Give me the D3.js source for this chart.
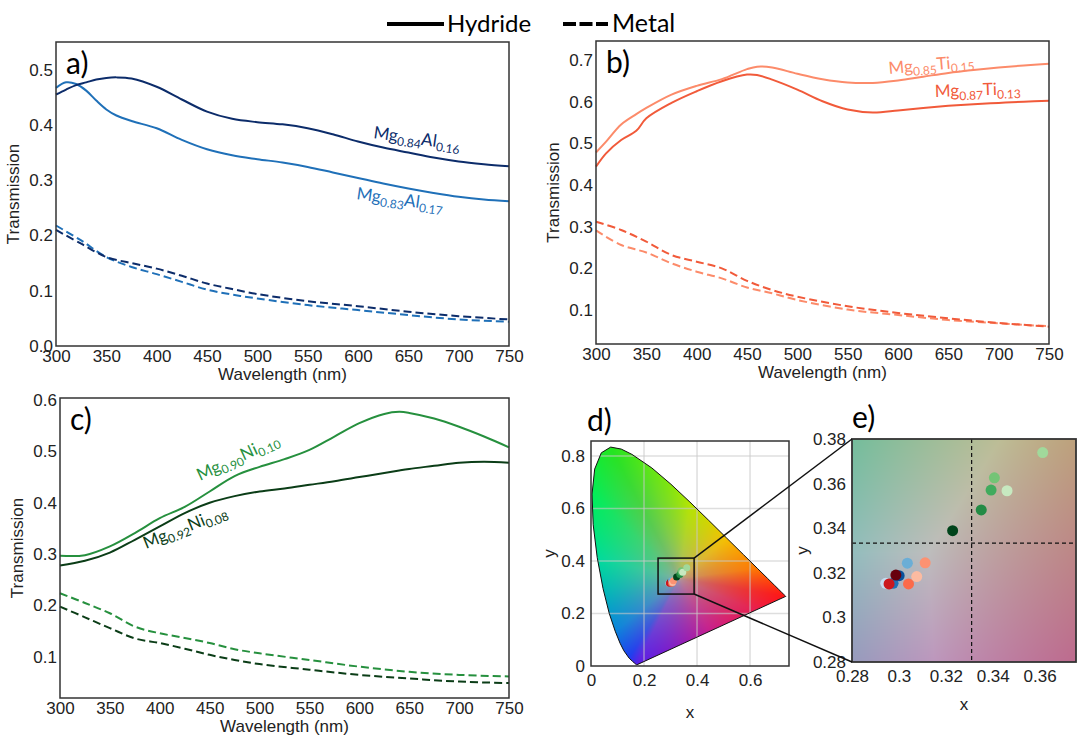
<!DOCTYPE html>
<html>
<head>
<meta charset="utf-8">
<script src="https://cdn.jsdelivr.net/npm/d3@7"></script>
<style>
  body { margin: 0; background: #fff; }
  svg { display: block; }
  .tick text { font-family: "Liberation Sans", Arial, sans-serif; font-size: 17px; fill: #222; }
</style>
</head>
<body>
<svg id="chart" width="1081" height="736"></svg>
<script>
// ---- data ----
// panel a: Mg-Al
const wlA = [300, 310, 320, 330, 340, 350, 360, 375, 400, 425, 450, 475, 500, 525, 550, 575, 600, 625, 650, 675, 700, 725, 750];
const al16Hyd = [.455, .464, .472, .477, .482, .485, .486, .484, .469, .446, .424, .411, .405, .401, .394, .383, .370, .359, .350, .341, .334, .329, .325];
const al17Hyd = [.467, .477, .474, .462, .444, .428, .417, .407, .394, .373, .356, .345, .338, .332, .324, .314, .304, .294, .285, .277, .270, .265, .262];
const wlMetal = [300, 325, 350, 375, 400, 425, 450, 475, 500, 550, 600, 650, 700, 750];
const al16Met = [.210, .185, .161, .150, .140, .127, .113, .103, .094, .081, .072, .062, .054, .048];
const al17Met = [.218, .191, .161, .143, .130, .116, .102, .093, .086, .074, .065, .056, .048, .044];

// panel b: Mg-Ti
const wlB = [300, 310, 325, 340, 350, 375, 400, 425, 450, 460, 475, 500, 525, 550, 575, 600, 625, 650, 675, 700, 725, 750];
const ti15Hyd = [.478, .504, .545, .570, .585, .617, .638, .654, .678, .684, .682, .667, .654, .646, .645, .651, .660, .669, .676, .682, .687, .691];
const ti13Hyd = [.444, .476, .508, .530, .560, .597, .625, .649, .665, .664, .653, .629, .601, .581, .574, .579, .585, .590, .594, .597, .600, .602];
const ti13Met = [.312, .292, .264, .232, .216, .200, .170, .148, .132, .109, .093, .080, .069, .060];
const ti15Met = [.291, .256, .238, .212, .192, .176, .154, .140, .124, .101, .088, .076, .068, .061];

// panel c: Mg-Ni
const wlC = [300, 325, 350, 375, 400, 425, 450, 475, 500, 525, 550, 575, 600, 625, 640, 650, 675, 700, 725, 750];
const ni10Hyd = [.297, .298, .315, .341, .370, .392, .422, .452, .470, .485, .503, .529, .555, .573, .577, .575, .564, .548, .529, .508];
const ni08Hyd = [.278, .287, .303, .328, .354, .380, .400, .413, .422, .428, .435, .442, .450, .458, .463, .466, .472, .478, .480, .478];
const ni10Met = [.224, .205, .185, .159, .146, .137, .127, .115, .107, .094, .081, .071, .065, .062];
const ni08Met = [.198, .177, .156, .136, .127, .116, .104, .094, .086, .075, .065, .058, .052, .049];

// CIE 1931 spectral locus (x, y)
const locusX = [0.1741, 0.1733, 0.1714, 0.1689, 0.1644, 0.1566, 0.1440, 0.1241, 0.1096, 0.0913, 0.0687, 0.0454, 0.0235, 0.0082, 0.0039, 0.0139, 0.0389, 0.0743, 0.1142, 0.1547, 0.2296, 0.3016, 0.3731, 0.4441, 0.5125, 0.5752, 0.6270, 0.6658, 0.6915, 0.7079, 0.7190, 0.7260, 0.7300, 0.7334, 0.7347];
const locusY = [0.0050, 0.0048, 0.0051, 0.0069, 0.0109, 0.0177, 0.0297, 0.0578, 0.0868, 0.1327, 0.2007, 0.2950, 0.4127, 0.5384, 0.6548, 0.7502, 0.8120, 0.8338, 0.8262, 0.8059, 0.7543, 0.6923, 0.6245, 0.5547, 0.4866, 0.4242, 0.3725, 0.3340, 0.3083, 0.2920, 0.2809, 0.2740, 0.2700, 0.2666, 0.2653];

// edge colours of the diagram as they appear in the figure (point on the edge, colour)
const edgeX = [0.0743, 0.0039, 0.0235, 0.0454, 0.0913, 0.1440, 0.1741, 0.45, 0.62, 0.7347, 0.6270, 0.5125, 0.3731, 0.2296];
const edgeY = [0.8338, 0.6548, 0.4127, 0.2950, 0.1327, 0.0297, 0.0050, 0.133, 0.212, 0.2653, 0.3725, 0.4866, 0.6245, 0.7543];
const edgeCol = ['#22e61e', '#00ee5a', '#00dc9a', '#00bcb4', '#0a84dc', '#1e3cf0', '#5a1ee6', '#c81e8c', '#e81e50', '#ff1414', '#ff7a00', '#f5c000', '#b4e600', '#64e614'];
const centreCol = '#aaa29e';

// colour coordinates of the samples (drawing order)
const chromX = [0.2944, 0.2975, 0.3001, 0.2987, 0.2958, 0.3036, 0.3041, 0.3076, 0.3112, 0.3229, 0.3351, 0.3393, 0.3407, 0.3461, 0.3613];
const chromY = [0.3153, 0.3153, 0.3187, 0.3190, 0.3150, 0.3243, 0.3150, 0.3183, 0.3245, 0.3389, 0.3482, 0.3571, 0.3626, 0.3568, 0.3739];
const chromCol = ['#c6dbef', '#2171b5', '#08519c', '#67000d', '#cb181d', '#6baed6', '#fb6a4a', '#fcbba1', '#fc9272', '#00441b', '#238b45', '#41ab5d', '#74c476', '#c7e9c0', '#a1d99b'];
const whitePt = [0.331, 0.3333];
const zoomBox = [0.253, 0.389, 0.274, 0.411];

const navy = '#0c2c6a', blue = '#1f70b8';
const salmon = '#fc8b6a', red = '#f15a3a';
const green = '#26903e', dkgreen = '#0b3d17';

const svg = d3.select('#chart');
const sans = '"Liberation Sans", Arial, sans-serif';
const cal = 'Lato, "Open Sans", sans-serif';

// ---- legend ----
const leg = svg.append('g');
leg.append('line').attr('x1', 387).attr('x2', 444).attr('y1', 24).attr('y2', 24)
  .attr('stroke', '#000').attr('stroke-width', 4);
leg.append('text').attr('x', 447).attr('y', 32).attr('font-family', cal).attr('font-size', 24).text('Hydride');
leg.append('line').attr('x1', 563).attr('x2', 608).attr('y1', 24).attr('y2', 24)
  .attr('stroke', '#000').attr('stroke-width', 4).attr('stroke-dasharray', '13,3.5');
leg.append('text').attr('x', 612).attr('y', 32).attr('font-family', cal).attr('font-size', 25).text('Metal');

// ---- spectra panels ----
function spectrumPanel(box, yDomain, yTicks, series, tag, labels) {
  const x = d3.scaleLinear().domain([300, 750]).range([box.l, box.r]);
  const y = d3.scaleLinear().domain(yDomain).range([box.b, box.t]);
  const g = svg.append('g');

  g.append('g').attr('transform', `translate(0,${box.b})`)
    .call(d3.axisBottom(x).tickValues(d3.range(300, 751, 50)).tickSize(0).tickPadding(4))
    .call(a => a.select('.domain').remove());
  g.append('g').attr('transform', `translate(${box.l},0)`)
    .call(d3.axisLeft(y).tickValues(yTicks).tickFormat(d3.format('.1f')).tickSize(0).tickPadding(3))
    .call(a => a.select('.domain').remove());

  const line = d3.line().curve(d3.curveCatmullRom.alpha(0.5)).x(d => x(d[0])).y(d => y(d[1]));
  series.forEach(s => {
    g.append('path').datum(d3.zip(s.wl, s.v)).attr('d', line)
      .attr('fill', 'none').attr('stroke', s.c).attr('stroke-width', 2)
      .attr('stroke-dasharray', s.dash ? '8,4' : null);
  });

  g.append('rect').attr('x', box.l).attr('y', box.t).attr('width', box.r - box.l).attr('height', box.b - box.t)
    .attr('fill', 'none').attr('stroke', '#333').attr('stroke-width', 1.5);

  g.append('text').attr('x', box.l + 10).attr('y', box.t + 32).attr('font-family', cal).attr('font-size', 30).text(tag);
  g.append('text').attr('transform', `translate(${box.l - 37},${(box.t + box.b) / 2}) rotate(-90)`)
    .attr('text-anchor', 'middle').attr('font-family', sans).attr('font-size', 17).attr('fill', '#222').text('Transmission');
  g.append('text').attr('x', (box.l + box.r) / 2).attr('y', box.b + 34)
    .attr('text-anchor', 'middle').attr('font-family', sans).attr('font-size', 17).attr('fill', '#222').text('Wavelength (nm)');

  labels.forEach(lb => {
    const t = g.append('text').attr('transform', `translate(${lb.x},${lb.y}) rotate(${lb.rot})`)
      .attr('font-family', cal).attr('font-size', 17).attr('fill', lb.c);
    lb.parts.forEach((p, i) => {
      t.append('tspan').attr('font-size', i % 2 ? 12 : 17).attr('dy', i === 0 ? 0 : (i % 2 ? 4 : -4)).text(p);
    });
  });
}

spectrumPanel({ l: 56, r: 509, t: 42, b: 346 }, [0, 0.55], [0, .1, .2, .3, .4, .5], [
  { wl: wlMetal, v: al17Met, c: blue, dash: true },
  { wl: wlMetal, v: al16Met, c: navy, dash: true },
  { wl: wlA, v: al17Hyd, c: blue },
  { wl: wlA, v: al16Hyd, c: navy }
], 'a)', [
  { x: 373, y: 138, rot: 8, c: navy, parts: ['Mg', '0.84', 'Al', '0.16'] },
  { x: 356, y: 199, rot: 8, c: blue, parts: ['Mg', '0.83', 'Al', '0.17'] }
]);

spectrumPanel({ l: 596, r: 1049, t: 41, b: 344 }, [0.0184, 0.7456], [.1, .2, .3, .4, .5, .6, .7], [
  { wl: wlMetal, v: ti15Met, c: salmon, dash: true },
  { wl: wlMetal, v: ti13Met, c: red, dash: true },
  { wl: wlB, v: ti15Hyd, c: salmon },
  { wl: wlB, v: ti13Hyd, c: red }
], 'b)', [
  { x: 889, y: 74, rot: -5, c: salmon, parts: ['Mg', '0.85', 'Ti', '0.15'] },
  { x: 935, y: 97, rot: -2, c: red, parts: ['Mg', '0.87', 'Ti', '0.13'] }
]);

spectrumPanel({ l: 60, r: 509, t: 398, b: 698 }, [0.02, 0.604], [.1, .2, .3, .4, .5, .6], [
  { wl: wlMetal, v: ni10Met, c: green, dash: true },
  { wl: wlMetal, v: ni08Met, c: dkgreen, dash: true },
  { wl: wlC, v: ni10Hyd, c: green },
  { wl: wlC, v: ni08Hyd, c: dkgreen }
], 'c)', [
  { x: 200, y: 481, rot: -25, c: green, parts: ['Mg', '0.90', 'Ni', '0.10'] },
  { x: 146, y: 549, rot: -22, c: dkgreen, parts: ['Mg', '0.92', 'Ni', '0.08'] }
]);

// ---- chromaticity helpers ----
// close-up: sRGB colour of each (x, y), dimmed
function srgbColor(cx, cy) {
  const X = cx / cy, Z = (1 - cx - cy) / cy;
  const lin = [3.2406 * X - 1.5372 - 0.4986 * Z,
               -0.9689 * X + 1.8758 + 0.0415 * Z,
               0.0557 * X - 0.2040 + 1.0570 * Z].map(v => Math.max(v, 0));
  const m = Math.max(...lin) || 1;
  return lin.map(v => Math.round(255 * 0.74 * Math.pow(v / m, 1 / 2.2)));
}

// full diagram: hue from the angle round the white point, saturation from the distance to the edge
const W = [1 / 3, 1 / 3];
const edges = d3.range(edgeX.length).map(i => ({
  a: Math.atan2(edgeY[i] - W[1], edgeX[i] - W[0]), c: d3.rgb(edgeCol[i])
})).sort((p, q) => p.a - q.a);
const centre = d3.rgb(centreCol);
function hueAt(a) {
  const n = edges.length;
  for (let k = 0; k < n; k++) {
    const p = edges[k], q = edges[(k + 1) % n];
    const a0 = p.a, a1 = k === n - 1 ? q.a + 2 * Math.PI : q.a;
    let aa = a;
    if (k === n - 1 && aa < a0) aa += 2 * Math.PI;
    if (aa >= a0 && aa <= a1) {
      const t = (aa - a0) / (a1 - a0);
      return [p.c.r + t * (q.c.r - p.c.r), p.c.g + t * (q.c.g - p.c.g), p.c.b + t * (q.c.b - p.c.b)];
    }
  }
  const c = edges[0].c;
  return [c.r, c.g, c.b];
}
const locusPts = d3.zip(locusX, locusY);
function edgeReach(dx, dy) {
  // smallest s > 0 with W + s*d on the closed locus outline
  let best = Infinity;
  const n = locusPts.length;
  for (let k = 0; k < n; k++) {
    const p = locusPts[k], q = locusPts[(k + 1) % n];
    const ex = q[0] - p[0], ey = q[1] - p[1];
    const den = dx * ey - dy * ex;
    if (Math.abs(den) < 1e-12) continue;
    const wx = p[0] - W[0], wy = p[1] - W[1];
    const s = (wx * ey - wy * ex) / den;
    const u = (wx * dy - wy * dx) / den;
    if (s > 0 && u >= 0 && u <= 1 && s < best) best = s;
  }
  return best;
}
function diagramColor(cx, cy) {
  const dx = cx - W[0], dy = cy - W[1];
  const r = Math.hypot(dx, dy);
  if (r < 1e-6) return [centre.r, centre.g, centre.b];
  const s = edgeReach(dx, dy);
  const t = Math.min(1, Math.pow(Math.min(1, 1 / s), 0.55));
  const h = hueAt(Math.atan2(dy, dx));
  return [0, 1, 2].map(k => {
    const c0 = [centre.r, centre.g, centre.b][k];
    return Math.round(c0 + t * (h[k] - c0));
  });
}

function chromaImage(x, y, colorFn) {
  const [x0, x1] = x.range(), [y1, y0] = y.range();
  const w = Math.round(x1 - x0), h = Math.round(y1 - y0);
  const cv = document.createElement('canvas');
  cv.width = w; cv.height = h;
  const ctx = cv.getContext('2d');
  const img = ctx.createImageData(w, h);
  for (let j = 0; j < h; j++) {
    for (let i = 0; i < w; i++) {
      const cx = x.invert(x0 + i + 0.5), cy = Math.max(y.invert(y0 + j + 0.5), 0.002);
      const c = colorFn(cx, cy);
      const k = 4 * (j * w + i);
      img.data[k] = c[0]; img.data[k + 1] = c[1]; img.data[k + 2] = c[2]; img.data[k + 3] = 255;
    }
  }
  ctx.putImageData(img, 0, 0);
  return { href: cv.toDataURL(), x: x0, y: y0, w, h };
}

// ---- panel d ----
const dBox = { l: 591, r: 789, t: 441, b: 666 };
const xd = d3.scaleLinear().domain([0, 0.747]).range([dBox.l, dBox.r]);
const yd = d3.scaleLinear().domain([0, 0.857]).range([dBox.b, dBox.t]);
const gd = svg.append('g');

const locusPath = d3.line().x(d => xd(d[0])).y(d => yd(d[1]))(locusPts) + 'Z';
svg.append('defs').append('clipPath').attr('id', 'locusClip').append('path').attr('d', locusPath);

const imD = chromaImage(xd, yd, diagramColor);
gd.append('image').attr('href', imD.href).attr('x', imD.x).attr('y', imD.y)
  .attr('width', imD.w).attr('height', imD.h).attr('preserveAspectRatio', 'none')
  .attr('clip-path', 'url(#locusClip)');

gd.append('g').selectAll('line').data([0.2, 0.4, 0.6]).join('line')
  .attr('x1', d => xd(d)).attr('x2', d => xd(d)).attr('y1', dBox.t).attr('y2', dBox.b)
  .attr('stroke', '#c8c8c8').attr('stroke-opacity', 0.6).attr('stroke-width', 1.5);
gd.append('g').selectAll('line').data([0.2, 0.4, 0.6, 0.8]).join('line')
  .attr('x1', dBox.l).attr('x2', dBox.r).attr('y1', d => yd(d)).attr('y2', d => yd(d))
  .attr('stroke', '#c8c8c8').attr('stroke-opacity', 0.6).attr('stroke-width', 1.5);
gd.append('path').attr('d', locusPath).attr('fill', 'none').attr('stroke', '#111').attr('stroke-width', 1);

gd.selectAll('circle').data(d3.range(chromX.length)).join('circle')
  .attr('cx', i => xd(chromX[i])).attr('cy', i => yd(chromY[i])).attr('r', 3.5)
  .attr('fill', i => chromCol[i]);

gd.append('rect').attr('x', xd(zoomBox[0])).attr('y', yd(zoomBox[3]))
  .attr('width', xd(zoomBox[1]) - xd(zoomBox[0])).attr('height', yd(zoomBox[2]) - yd(zoomBox[3]))
  .attr('fill', 'none').attr('stroke', '#111').attr('stroke-width', 1.5);

gd.append('rect').attr('x', dBox.l).attr('y', dBox.t).attr('width', dBox.r - dBox.l).attr('height', dBox.b - dBox.t)
  .attr('fill', 'none').attr('stroke', '#333').attr('stroke-width', 1.5);
gd.append('g').attr('transform', `translate(0,${dBox.b})`)
  .call(d3.axisBottom(xd).tickValues([0, 0.2, 0.4, 0.6]).tickFormat(d => d === 0 ? '0' : d3.format('.1f')(d)).tickSize(0).tickPadding(8))
  .call(a => a.select('.domain').remove());
gd.append('g').attr('transform', `translate(${dBox.l},0)`)
  .call(d3.axisLeft(yd).tickValues([0, 0.2, 0.4, 0.6, 0.8]).tickFormat(d => d === 0 ? '0' : d3.format('.1f')(d)).tickSize(0).tickPadding(6))
  .call(a => a.select('.domain').remove());
gd.append('text').attr('x', 587).attr('y', 431).attr('font-family', cal).attr('font-size', 30).text('d)');
gd.append('text').attr('x', (dBox.l + dBox.r) / 2).attr('y', 718).attr('text-anchor', 'middle')
  .attr('font-family', sans).attr('font-size', 17).attr('fill', '#222').text('x');
gd.append('text').attr('transform', `translate(${dBox.l - 36},${(dBox.t + dBox.b) / 2}) rotate(-90)`)
  .attr('text-anchor', 'middle').attr('font-family', sans).attr('font-size', 17).attr('fill', '#222').text('y');

// ---- panel e ----
const eBox = { l: 852, r: 1076, t: 439, b: 662 };
const xe = d3.scaleLinear().domain([0.28, 0.3755]).range([eBox.l, eBox.r]);
const ye = d3.scaleLinear().domain([0.28, 0.38]).range([eBox.b, eBox.t]);
const ge = svg.append('g');

const imE = chromaImage(xe, ye, srgbColor);
ge.append('image').attr('href', imE.href).attr('x', imE.x).attr('y', imE.y)
  .attr('width', imE.w).attr('height', imE.h).attr('preserveAspectRatio', 'none');

ge.append('line').attr('x1', xe(whitePt[0])).attr('x2', xe(whitePt[0])).attr('y1', eBox.t).attr('y2', eBox.b)
  .attr('stroke', '#111').attr('stroke-width', 1.2).attr('stroke-dasharray', '4,3');
ge.append('line').attr('x1', eBox.l).attr('x2', eBox.r).attr('y1', ye(whitePt[1])).attr('y2', ye(whitePt[1]))
  .attr('stroke', '#111').attr('stroke-width', 1.2).attr('stroke-dasharray', '4,3');

ge.selectAll('circle').data(d3.range(chromX.length)).join('circle')
  .attr('cx', i => xe(chromX[i])).attr('cy', i => ye(chromY[i])).attr('r', 5.5)
  .attr('fill', i => chromCol[i]);

ge.append('rect').attr('x', eBox.l).attr('y', eBox.t).attr('width', eBox.r - eBox.l).attr('height', eBox.b - eBox.t)
  .attr('fill', 'none').attr('stroke', '#333').attr('stroke-width', 1.8);
ge.append('g').attr('transform', `translate(0,${eBox.b})`)
  .call(d3.axisBottom(xe).tickValues([0.28, 0.30, 0.32, 0.34, 0.36]).tickFormat(d3.format('~g')).tickSize(0).tickPadding(8))
  .call(a => a.select('.domain').remove());
ge.append('g').attr('transform', `translate(${eBox.l},0)`)
  .call(d3.axisLeft(ye).tickValues([0.28, 0.30, 0.32, 0.34, 0.36, 0.38]).tickFormat(d3.format('~g')).tickSize(0).tickPadding(6))
  .call(a => a.select('.domain').remove());
ge.append('text').attr('x', 852).attr('y', 428).attr('font-family', cal).attr('font-size', 30).text('e)');
ge.append('text').attr('x', 964).attr('y', 710).attr('text-anchor', 'middle')
  .attr('font-family', sans).attr('font-size', 17).attr('fill', '#222').text('x');
ge.append('text').attr('transform', `translate(${eBox.l - 44},${(eBox.t + eBox.b) / 2}) rotate(-90)`)
  .attr('text-anchor', 'middle').attr('font-family', sans).attr('font-size', 17).attr('fill', '#222').text('y');

// connectors from the zoom box in d to panel e
svg.append('line').attr('x1', xd(zoomBox[1])).attr('y1', yd(zoomBox[3])).attr('x2', eBox.l).attr('y2', eBox.t)
  .attr('stroke', '#111').attr('stroke-width', 1.5);
svg.append('line').attr('x1', xd(zoomBox[1])).attr('y1', yd(zoomBox[2])).attr('x2', eBox.l).attr('y2', eBox.b)
  .attr('stroke', '#111').attr('stroke-width', 1.5);
</script>
</body>
</html>
